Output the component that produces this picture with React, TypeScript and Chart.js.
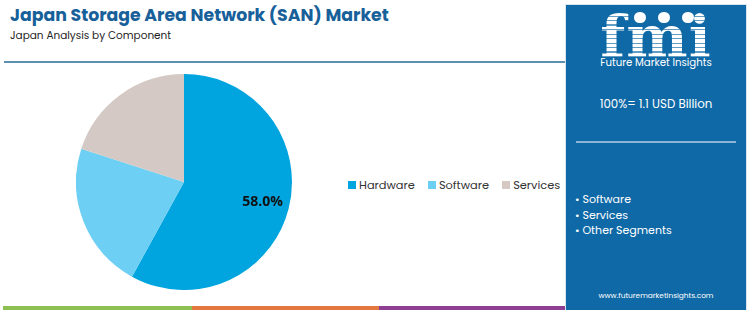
import React, { useEffect, useRef } from "react";
import { Chart, registerables } from "chart.js";

Chart.register(...registerables);

const TITLE = "Japan Storage Area Network (SAN) Market";
const SUBTITLE = "Japan Analysis by Component";
const categories = ["Hardware", "Software", "Services"];
const shares = [58.0, 22.0, 20.0];
const colors = ["#00A4DF", "#6DCFF3", "#D4C9C4"];
const labeledIndex = [0];
const panelTotal = "100%= 1.1 USD Billion";
const panelSegments = ["Software", "Services", "Other Segments"];
const website = "www.futuremarketinsights.com";
const bottomStripe = ["#8CC152", "#E2773F", "#8E3F93"];

const FONT = "Poppins, 'Open Sans', Lato, sans-serif";

const labelPlugin = {
  id: "sliceLabels",
  afterDatasetsDraw(chart: any) {
    const ctx = chart.ctx;
    const meta = chart.getDatasetMeta(0);
    ctx.save();
    ctx.font = "bold 14px 'Open Sans', sans-serif";
    ctx.fillStyle = "#111";
    ctx.textAlign = "center";
    ctx.textBaseline = "middle";
    for (const i of labeledIndex) {
      const arc: any = meta.data[i];
      if (!arc) continue;
      const p = arc.getProps(["x", "y", "startAngle", "endAngle", "outerRadius"], true);
      const mid = (p.startAngle + p.endAngle) / 2;
      const r = p.outerRadius * 0.75;
      ctx.fillText(shares[i].toFixed(1) + "%", p.x + Math.cos(mid) * r, p.y + Math.sin(mid) * r);
    }
    ctx.restore();
  },
};

export default function App() {
  const ref = useRef<HTMLCanvasElement | null>(null);
  useEffect(() => {
    if (!ref.current) return;
    const chart = new Chart(ref.current, {
      type: "pie",
      data: {
        labels: categories,
        datasets: [{ data: shares, backgroundColor: colors, borderWidth: 0 }],
      },
      options: {
        responsive: false,
        animation: false,
        layout: { padding: 0 },
        plugins: { legend: { display: false }, tooltip: { enabled: false } },
      },
      plugins: [labelPlugin],
    });
    return () => chart.destroy();
  }, []);

  return (
    <div style={{ position: "fixed", left: 0, top: 0, width: 750, height: 310, background: "#fff", overflow: "hidden", fontFamily: FONT }}>
      <div style={{ position: "absolute", left: 10, top: 3, fontSize: 17.3, lineHeight: "24px", fontWeight: 700, color: "#17609A", whiteSpace: "nowrap" }}>{TITLE}</div>
      <div style={{ position: "absolute", left: 10, top: 27, fontSize: 10.5, lineHeight: "18px", color: "#222", whiteSpace: "nowrap" }}>{SUBTITLE}</div>
      <div style={{ position: "absolute", left: 4, top: 61, width: 562, height: 2, background: "#5F8FAF" }} />
      <canvas ref={ref} width={216} height={216} style={{ position: "absolute", left: 76, top: 74, width: 216, height: 216 }} />
      <div style={{ position: "absolute", left: 348, top: 176, height: 18, display: "flex", alignItems: "center", fontSize: 11.4, color: "#333", whiteSpace: "nowrap" }}>
        {categories.map((c, i) => (
          <span key={c} style={{ display: "flex", alignItems: "center", marginRight: 13 }}>
            <span style={{ display: "inline-block", width: 8, height: 8, background: colors[i], marginRight: 3 }} />
            {c}
          </span>
        ))}
      </div>
      {bottomStripe.map((c, i) => (
        <div key={c} style={{ position: "absolute", left: [3, 192, 379][i], width: [189, 187, 187][i], top: 306, height: 4, background: c }} />
      ))}
      <div style={{ position: "absolute", left: 566, top: 5, width: 180, height: 305, background: "#0F69A6", boxShadow: "0 0 0 1px #d8e4ee" }}>
        <div style={{ position: "absolute", left: 0, top: 3, width: 180, textAlign: "center", fontFamily: "'DejaVu Serif', serif", fontWeight: 700, fontSize: 58, lineHeight: "58px", letterSpacing: 1, color: "transparent", backgroundImage: "repeating-linear-gradient(180deg, #ffffff 0px, #ffffff 3px, rgba(255,255,255,0.35) 3px, rgba(255,255,255,0.35) 4.5px)", WebkitBackgroundClip: "text", backgroundClip: "text" }}>fmi</div>
        {[74, 98, 122].map((x) => (
          <div key={x} style={{ position: "absolute", left: x - 6, top: 7, width: 12, height: 11, borderRadius: 6, background: "#fff" }} />
        ))}
        <div style={{ position: "absolute", left: 0, top: 51, width: 180, textAlign: "center", fontSize: 10.2, lineHeight: "14px", color: "#fff", whiteSpace: "nowrap" }}>Future Market Insights</div>
        <div style={{ position: "absolute", left: 0, top: 90, width: 180, textAlign: "center", fontSize: 11.8, lineHeight: "18px", color: "#fff", whiteSpace: "nowrap" }}>{panelTotal}</div>
        <div style={{ position: "absolute", left: 10, top: 136, width: 160, height: 2, background: "#8DB5D6" }} />
        <div style={{ position: "absolute", left: 9, top: 187, fontSize: 11, color: "#fff", lineHeight: "15.5px" }}>
          {panelSegments.map((s) => (
            <div key={s} style={{ whiteSpace: "nowrap" }}>{"\u2022 " + s}</div>
          ))}
        </div>
        <div style={{ position: "absolute", left: 0, top: 285, width: 180, textAlign: "center", fontSize: 7.4, lineHeight: "12px", color: "#fff", whiteSpace: "nowrap" }}>{website}</div>
      </div>
    </div>
  );
}
